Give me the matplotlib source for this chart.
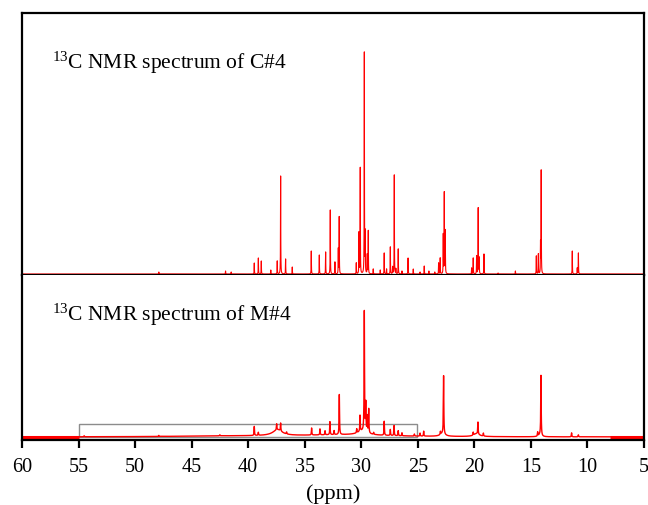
"""13C NMR spectra of C#4 (top) and M#4 (bottom), stacked on a shared ppm axis."""
import matplotlib

matplotlib.use("Agg")
import matplotlib.pyplot as plt
import numpy as np
from matplotlib.patches import Rectangle

plt.rcParams["font.family"] = ["Liberation Serif", "DejaVu Serif"]
plt.rcParams["mathtext.default"] = "regular"

# ---- peak lists (ppm, height in arbitrary units) ----
C4_PPM = [47.9, 42.0, 41.5, 39.46, 39.1, 38.84, 38.0, 37.43, 37.13, 36.69, 36.1,
          34.42, 33.71, 33.15, 32.74, 32.33, 32.03, 31.95, 30.44, 30.2, 30.09,
          29.73, 29.65, 29.47, 29.38, 28.94, 28.32, 27.97, 27.76, 27.43, 27.23,
          27.08, 26.94, 26.73, 26.4, 25.86, 25.4, 24.8, 24.43, 24.02, 23.5, 23.16,
          23.02, 22.75, 22.66, 22.57, 20.24, 20.1, 19.8, 19.66, 19.57, 19.15,
          17.9, 16.37, 14.52, 14.34, 14.15, 14.09, 11.34, 10.9, 10.8]
C4_INT = [2, 3, 2, 11, 16, 13, 4, 13, 98, 15, 7,
          23, 19, 22, 64, 12, 25, 57, 11, 41, 106,
          221, 40, 19, 43, 5, 4, 21, 5, 27, 7,
          99, 5, 25, 3, 16, 5, 2, 8, 3, 2, 11,
          16, 39, 81, 43, 6, 16, 18, 66, 16, 20,
          1, 3, 18, 20, 30, 103, 23, 6, 21]

M4_PPM = [54.5, 47.9, 42.5, 39.46, 39.1, 37.48, 37.13, 36.6, 34.39, 33.65, 33.2,
          32.77, 32.4, 31.94, 30.4, 30.11, 29.73, 29.6, 29.47, 29.34, 28.9,
          27.97, 27.43, 27.1, 26.73, 26.4, 25.3, 24.8, 24.48, 23.0, 22.72,
          20.1, 19.68, 19.2, 14.4, 14.11, 11.4, 10.8]
M4_INT = [1, 1, 1, 9, 3, 6, 8, 2, 7, 6, 4,
          13, 4, 40, 4, 16, 120, 28, 16, 24, 2,
          14, 6, 10, 5, 3, 2, 3, 5, 3, 58,
          3, 12, 3, 4, 60, 4, 2]
# broad humps under the M#4 spectrum (centre, height, half-width)
M4_BROAD = [(37.4, 6, 0.5), (31.5, 2, 5.0), (29.9, 4, 0.5), (22.8, 3, 0.25),
            (19.8, 3, 0.3), (14.2, 2, 0.15), (42.0, 0.8, 6.0)]
M4_NOISE = [(60.0, 55.0), (8.0, 5.0)]      # ppm ranges with a thick noisy baseline
ZOOM_BOX = (55.0, 25.1)                      # grey region marked on M#4

TICKS = [60, 55, 50, 45, 40, 35, 30, 25, 20, 15, 10, 5]
RED = "#ff0000"


def spectrum(x, ppm, inten, hw):
    y = np.zeros_like(x)
    for p, h in zip(ppm, inten):
        y += h / (1.0 + ((x - p) / hw) ** 2)
    return y


def main():
    # fine grid, plus the exact peak positions so the maxima are not clipped
    x = np.union1d(np.arange(5.0, 60.0, 0.004), C4_PPM + M4_PPM)
    top = spectrum(x, C4_PPM, C4_INT, 0.012)
    bot = spectrum(x, M4_PPM, M4_INT, 0.022)
    for c, h, w in M4_BROAD:
        bot += h / (1.0 + ((x - c) / w) ** 2)

    fig = plt.figure(figsize=(6.48, 5.05), dpi=100)
    ax1 = fig.add_axes([22 / 648, 1 - 275 / 505, 622 / 648, 262 / 505])
    ax2 = fig.add_axes([22 / 648, 1 - 440 / 505, 622 / 648, 165 / 505])

    ax1.plot(x, top, color=RED, lw=0.8)
    ax1.set_ylim(-1, 261)
    ax2.plot(x, bot, color=RED, lw=1.0)
    for a, b in M4_NOISE:
        ax2.plot([a, b], [0, 0], color=RED, lw=2.2, solid_capstyle="butt")
    ax2.set_ylim(-3, 162)
    ax2.add_patch(Rectangle((ZOOM_BOX[1], 0), ZOOM_BOX[0] - ZOOM_BOX[1], 13,
                            fill=False, ec="#8c8c8c", lw=1.0))

    for ax in (ax1, ax2):
        ax.set_xlim(60, 5)
        ax.set_yticks([])
        for s in ax.spines.values():
            s.set_linewidth(1.6)
    ax2.spines["top"].set_visible(False)
    ax1.set_xticks([])
    ax2.set_xticks(TICKS)
    ax2.tick_params(axis="x", direction="out", length=6, width=1.6, labelsize=14.5, pad=7)
    ax2.set_xlabel("(ppm)", fontsize=16, labelpad=5)

    ax1.text(30 / 622, (275 - 69) / 262, r"$^{13}$C NMR spectrum of C#4",
             transform=ax1.transAxes, fontsize=15.5, va="baseline")
    ax2.text(30 / 622, (440 - 321) / 165, r"$^{13}$C NMR spectrum of M#4",
             transform=ax2.transAxes, fontsize=15.5, va="baseline")

    fig.savefig("out.png", dpi=100)
    plt.close(fig)


if __name__ == "__main__":
    main()
